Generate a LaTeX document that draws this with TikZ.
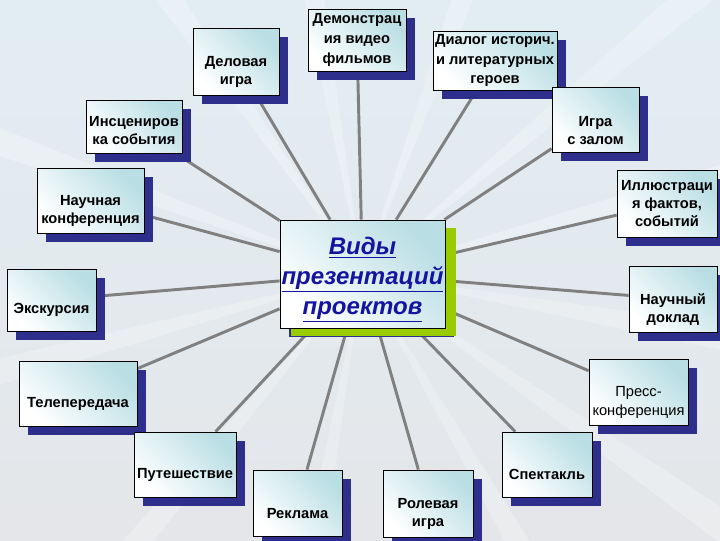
\documentclass[tikz,border=0pt]{standalone}
\usepackage{fontspec}
\setmainfont{Liberation Sans}
\usetikzlibrary{shadows}
\usetikzlibrary{backgrounds}

\definecolor{shadowblue}{RGB}{46,46,140}
\definecolor{shadowgreen}{RGB}{153,204,0}
\definecolor{boxcyan}{RGB}{185,222,228}
\definecolor{linkgray}{RGB}{128,128,128}
\definecolor{titleblue}{RGB}{20,20,160}
\definecolor{bgtop}{RGB}{226,237,243}
\definecolor{bgbottom}{RGB}{228,230,233}

\begin{document}
\begin{tikzpicture}[x=0.75pt, y=-0.75pt,
		boxsize/.style 2 args={minimum width=#1*0.75pt, minimum height=#2*0.75pt},
		kind/.style={draw=black, line width=0.6pt, inner sep=1pt, align=center,
			top color=boxcyan, bottom color=white, shading angle=-45,
			font=\fontsize{11}{13.5}\selectfont\bfseries, text height=23pt,
			drop shadow={shadow xshift=7pt, shadow yshift=-7pt, fill=shadowblue, opacity=1}},
		two/.style={text height=37pt},
		full/.style={text height=},
		wide/.style={font=\fontsize{11}{#1}\selectfont\bfseries},
		plain/.style={font=\fontsize{11}{14}\selectfont},
		title/.style={kind, text height=67pt, text=titleblue,
			font=\fontsize{18}{22.5}\selectfont\bfseries\itshape,
			drop shadow={shadow xshift=8pt, shadow yshift=-6pt, fill=shadowgreen, opacity=1}},
		link/.style={draw=linkgray, line width=2.2pt},
		ray/.style={fill=white, opacity=0.25}
		]
		\useasboundingbox (0,0) rectangle (720,540);

		% Boxes
		\node[kind, two, boxsize={86}{67}] (del) at (236,61.5) {Деловая\\игра};
		\node[kind, full, wide=15pt, boxsize={98}{62}] (demo) at (357,40) {Демонстрац\\ия видео\\фильмов};
		\node[kind, full, wide=14.5pt, boxsize={124}{59}] (dial) at (495,60.5) {Диалог историч.\\и литературных\\героев};
		\node[kind, text height=27pt, boxsize={96}{53}] (insc) at (134,126.5) {Инсцениров\\ка события};
		\node[kind, two, boxsize={87}{65}] (zal) at (595.5,119.5) {Игра\\с залом};
		\node[kind, two, boxsize={107}{65}] (konf) at (90.5,200.5) {Научная\\конференция};
		\node[kind, full, boxsize={100}{67}] (illus) at (667,203.5) {Иллюстраци\\я фактов,\\событий};
		\node[title, boxsize={165}{108}] (vidy) at (362.5,274) {\underline{Виды}\\\underline{презентаций}\\\underline{проектов}};
		\node[kind, boxsize={89}{62}] (exc) at (51.5,300) {Экскурсия};
		\node[kind, two, boxsize={88}{66}] (doklad) at (673,299) {Научный\\доклад};
		\node[kind, plain, two, boxsize={99}{66}] (press) at (638.5,392) {Пресс-\\конференция};
		\node[kind, boxsize={118}{65}] (tv) at (78,393.5) {Телепередача};
		\node[kind, boxsize={102}{65}] (trip) at (185,464.5) {Путешествие};
		\node[kind, boxsize={90}{65}] (spek) at (547,464.5) {Спектакль};
		\node[kind, boxsize={89}{66}] (reklama) at (297.5,503) {Реклама};
		\node[kind, two, boxsize={90}{67}] (rol) at (428,503.5) {Ролевая\\игра};

		\begin{scope}[on background layer]
			% Background
			\shade[top color=bgtop, bottom color=bgbottom] (0,0) rectangle (720,540);
			\foreach \a in {10,35,60,100,130,165,200,235,260,290,320,345}
				\fill[ray] (vidy.center) -- ++(\a-2:900) -- ++(\a+92:62) -- cycle;

			% Links
			\foreach \t in {del,demo,dial,insc,zal,konf,illus,exc,doklad,tv,press,trip,spek,reklama,rol}
				\draw[link] (vidy) -- (\t);
		\end{scope}
	\end{tikzpicture}
\end{document}
